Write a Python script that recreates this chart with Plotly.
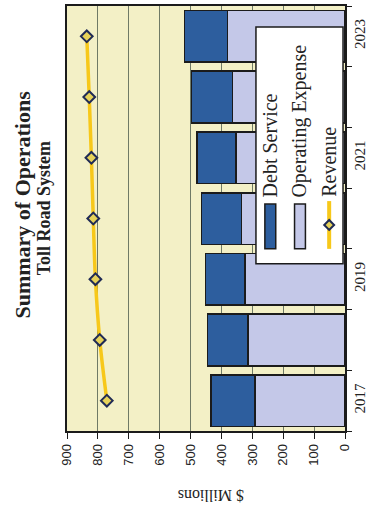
import plotly.graph_objects as go

# Toll Road System – annual summary, $ millions
years = ["2017", "2018", "2019", "2020", "2021", "2022", "2023"]
operating_expense = [291, 314, 324, 335, 352, 364, 380]
debt_service = [142, 131, 127, 130, 128, 133, 139]
revenue = [771, 794, 808, 815, 821, 828, 836]
year_labels = ["2017", "", "2019", "", "2021", "", "2023"]
value_ticks = [0, 100, 200, 300, 400, 500, 600, 700, 800, 900]

W, H = 372, 507
ML, MR, MT, MB = 67, 24, 4, 76
PW, PH = W - ML - MR, H - MT - MB

SERIF = "Liberation Serif, Times New Roman, serif"
SANS = "Liberation Sans, Arial, sans-serif"
DARK_BLUE = "#2d5e9e"
LAVENDER = "#c4c8e8"
GOLD = "#f7c81a"
OUTLINE = "#1b1b1b"


def px(x):
    """Pixel column -> paper x."""
    return (x - ML) / PW


def py(y):
    """Pixel row -> paper y."""
    return (MT + PH - y) / PH


fig = go.Figure()

fig.add_trace(go.Bar(
    name="Operating Expense", y=years, x=operating_expense, orientation="h",
    marker=dict(color=LAVENDER, line=dict(color=OUTLINE, width=1.6)),
))
fig.add_trace(go.Bar(
    name="Debt Service", y=years, x=debt_service, orientation="h",
    marker=dict(color=DARK_BLUE, line=dict(color=OUTLINE, width=1.6)),
))
fig.add_trace(go.Scatter(
    name="Revenue", y=years, x=revenue, mode="lines+markers",
    line=dict(color=GOLD, width=3.5, shape="spline"),
    marker=dict(symbol="diamond", size=9, color="#e6d25a",
                line=dict(color="#1f2a55", width=2)),
))

fig.update_layout(
    width=W, height=H,
    margin=dict(l=ML, r=MR, t=MT, b=MB),
    barmode="stack", bargap=0.15,
    showlegend=False,
    paper_bgcolor="white", plot_bgcolor="#f3f0c6",
    font=dict(family=SERIF, color="#222222"),
    xaxis=dict(
        range=[900, 0], tickvals=value_ticks, tickangle=-90,
        ticks="outside", ticklen=6, tickcolor=OUTLINE, tickwidth=1,
        tickfont=dict(size=13, family=SANS),
        showgrid=True, gridcolor="#6f7a66", gridwidth=1,
        showline=True, linecolor=OUTLINE, linewidth=1.5, mirror=True,
        zeroline=False,
    ),
    yaxis=dict(
        type="category", categoryorder="array", categoryarray=years,
        tickvals=years, ticktext=year_labels, tickson="boundaries",
        side="right", tickangle=-90,
        ticks="outside", ticklen=5, tickcolor=OUTLINE, tickwidth=1,
        tickfont=dict(size=15, family=SERIF),
        showgrid=False,
        showline=True, linecolor=OUTLINE, linewidth=1.5, mirror=True,
    ),
)

annotations = [
    dict(text="<b>Summary of Operations</b>", x=px(22), y=py(203),
         textangle=-90, font=dict(size=22)),
    dict(text="<b>Toll Road System</b>", x=px(44), y=py(207),
         textangle=-90, font=dict(size=18)),
    dict(text="$ Millions", x=px(212), y=py(496),
         textangle=180, font=dict(size=16)),
]
for a in annotations:
    a.update(xref="paper", yref="paper", showarrow=False,
             xanchor="center", yanchor="middle")

# Legend, drawn sideways to follow the rotated layout
shapes = [
    dict(type="rect", x0=px(258), x1=px(346), y0=py(263), y1=py(25),
         fillcolor="white", line=dict(color=OUTLINE, width=1.5)),
    dict(type="rect", x0=px(267), x1=px(278), y0=py(248), y1=py(203),
         fillcolor=DARK_BLUE, line=dict(color=OUTLINE, width=1.5)),
    dict(type="rect", x0=px(297), x1=px(308), y0=py(248), y1=py(203),
         fillcolor=LAVENDER, line=dict(color=OUTLINE, width=1.5)),
    dict(type="line", x0=px(332), x1=px(332), y0=py(248), y1=py(200),
         line=dict(color=GOLD, width=4)),
    dict(type="path",
         path=f"M {px(332)},{py(219)} L {px(337)},{py(224)} "
              f"L {px(332)},{py(229)} L {px(327)},{py(224)} Z",
         fillcolor="#e6d25a", line=dict(color="#1f2a55", width=2)),
]
for s in shapes:
    s.update(xref="paper", yref="paper", layer="above")

for label, cx in [("Debt Service", 272.5), ("Operating Expense", 302.5),
                  ("Revenue", 331.5)]:
    annotations.append(dict(
        text=label, x=px(cx), y=py(198), xref="paper", yref="paper",
        textangle=-90, showarrow=False, xanchor="center", yanchor="bottom",
        font=dict(size=20),
    ))

fig.update_layout(annotations=annotations, shapes=shapes)

fig.write_html("out.html")
